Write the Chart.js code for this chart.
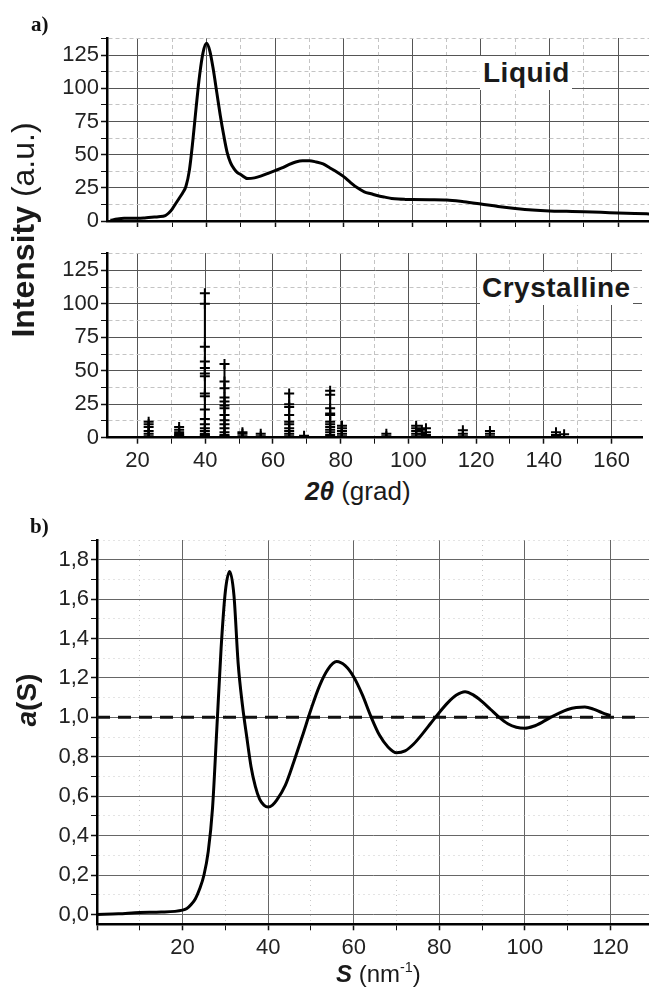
<!DOCTYPE html>
<html><head><meta charset="utf-8">
<script src="https://cdn.jsdelivr.net/npm/chart.js@4.4.1/dist/chart.umd.min.js"></script>
<style>
 html,body{margin:0;padding:0;background:#fff;}
 body{width:649px;height:989px;position:relative;overflow:hidden;font-family:"Liberation Sans",Arial,sans-serif;color:#111;}
 canvas{position:absolute;left:0;}
 .t{position:absolute;white-space:nowrap;line-height:1;}
 .lbl{position:absolute;background:#fff;font-weight:bold;font-size:28px;line-height:1;box-sizing:border-box;color:#1a1a1a;letter-spacing:0.5px;}
 sup{font-size:60%;vertical-align:0.7em;line-height:0;}
</style></head>
<body>
<canvas id="c1" width="649" height="200" style="top:30px"></canvas>
<canvas id="c2" width="649" height="230" style="top:245px"></canvas>
<canvas id="c3" width="649" height="459" style="top:530px"></canvas>

<div class="t" style="left:31px;top:12px;font:bold 21px 'Liberation Serif',serif;">a)</div>
<div class="t" style="left:30px;top:514px;font:bold 21px 'Liberation Serif',serif;">b)</div>
<div class="lbl" style="left:480px;top:56px;width:92px;height:34px;padding:3px 0 0 3px;">Liquid</div>
<div class="lbl" style="left:480px;top:272px;width:153px;height:33px;padding:2px 0 0 2px;">Crystalline</div>
<div class="t" style="left:23px;top:230px;transform:translate(-50%,-50%) rotate(-90deg);font-size:32px;color:#1a1a1a;"><b>Intensity</b> (a.u.)</div>
<div class="t" style="left:305px;top:478px;font-size:26px;color:#1a1a1a;"><b><i>2θ</i></b> (grad)</div>
<div class="t" style="left:27px;top:700px;transform:translate(-50%,-50%) rotate(-90deg);font-size:28px;color:#1a1a1a;"><b><i>a</i>(S)</b></div>
<div class="t" style="left:336px;top:962px;font-size:24px;color:#1a1a1a;"><b><i>S</i></b> (nm<sup>-1</sup>)</div>

<script>
// ---------- DATA ----------
// a) Liquid diffraction pattern: 2theta (grad) vs intensity (a.u.)
const liquidTheta = [12,14,16,18,20,22,24,26,28,29,30,31,32,33,34,35,36,37,38,39,40,41,42,43,44,45,46,47,48,49,50,52,54,56,58,60,62,64,66,68,70,72,74,76,78,80,82,84,86,88,90,92,94,96,98,100,105,110,115,120,125,130,135,140,145,150,155,160,165,170];
const liquidIntensity = [0.5,1.5,2,2,2,2.3,2.8,3.2,4,6,9,13,17,21,26,38,60,86,110,127,134,128,114,97,80,65,52,44,39.5,36.5,35,32,32.5,34,36,38,40,42.5,44.5,45.5,45.5,44.5,43,40,37,33.5,29,25,22,20.5,19,18,17,16.5,16.3,16.2,16,15.8,14.5,12.8,11,9.5,8.3,7.6,7.3,7,6.6,6,5.6,5.3];

// a) Crystalline reflections: stick positions and heights
const crystPeakTheta = [23.3,32.3,39.9,45.7,51.0,56.4,64.8,69.2,76.9,80.4,86.5,93.5,98,102.3,104,105.2,110,116.1,124.1,130,134,138,143.6,146,152,157,163,168];
const crystPeakHeight = [12,8,108,55,4,3,33,1.5,35,9,1,3,0.8,9,6,7,0.8,5.5,5,1,1,0.8,4,2.5,1,1,1,1];
// crystalline individual reflection markers (+)
const crystMarkTheta = [
 23.3,23.3,23.3,23.3,23.3,23.3,
 32.3,32.3,32.3,32.3,32.3,32.3,
 39.9,39.9,39.9,39.9,39.9,39.9,39.9,39.9,39.9,39.9,39.9,39.9,39.9,39.9,39.9,39.9,39.9,
 45.7,45.7,45.7,45.7,45.7,45.7,45.7,45.7,45.7,45.7,45.7,45.7,45.7,45.7,
 51.0,51.0,51.0, 56.4,56.4,
 64.8,64.8,64.8,64.8,64.8,64.8,64.8,64.8,64.8,64.8,
 69.2,
 76.9,76.9,76.9,76.9,76.9,76.9,76.9,76.9,76.9,76.9,76.9,
 80.4,80.4,80.4,80.4,80.4,
 93.5,93.5,
 102.3,102.3,102.3,102.3,102.3, 104,104, 105.2,105.2,105.2,
 116.1,116.1,116.1, 124.1,124.1,124.1,
 143.6,143.6,143.6, 146
];
const crystMarkIntensity = [
 12,10,8,5,3,1,
 8,6,4,3,2,1,
 108,100,68,57,52,48,46,33,31,21,14,10,7,5,3,2,1,
 55,42,37,30,27,24,22,17,13,10,7,4,2,1,
 4,3,1, 3,1,
 33,25,23,17,12,10,7,5,3,1,
 1.5,
 35,32,22,18,17,12,10,8,6,4,2,
 9,7,5,3,1,
 3,1,
 9,7,5,3,1, 6,3, 7,4,2,
 5.5,3,1, 5,3,1,
 4,2,1, 2.5
];

// b) Structure factor a(S)
const sValues = [0,5,10,15,20,21,22,23,24,25,26,27,28,29,30,31,32,33,34,35,36,37,38,39,40,41,42,44,46,48,50,52,54,56,58,60,62,64,66,68,70,72,74,76,78,80,82,84,86,88,90,92,94,96,98,100,102,104,106,108,110,112,114,116,118,120];
const aValues = [0,0.003,0.01,0.012,0.022,0.03,0.05,0.08,0.13,0.2,0.32,0.54,0.94,1.35,1.64,1.74,1.62,1.27,1.06,0.9,0.75,0.65,0.585,0.555,0.545,0.555,0.58,0.655,0.775,0.905,1.04,1.16,1.245,1.283,1.262,1.205,1.115,1.005,0.91,0.85,0.82,0.83,0.865,0.915,0.97,1.025,1.075,1.113,1.13,1.113,1.08,1.04,1.0,0.968,0.95,0.945,0.955,0.975,1.0,1.022,1.04,1.05,1.052,1.042,1.024,1.008];
const refLineS = [0,126.5];
const refLineA = [1.0,1.0];

// tick labels
const intensityTicks = [0,25,50,75,100,125];
const thetaTicks = [20,40,60,80,100,120,140,160];
const aTicks = [0,0.2,0.4,0.6,0.8,1.0,1.2,1.4,1.6,1.8];
const sTicks = [20,40,60,80,100,120];

// ---------- HELPERS ----------
const TICKFONT = {family:"'Liberation Sans', Arial, sans-serif", size:22};
const near = (v, arr) => arr.some(a => Math.abs(a - v) < 1e-6);
function gridOpts(majorFn, minorDash, majorColor, minorColor){
  return {
    grid:{
      drawOnChartArea:true, drawTicks:true, tickLength:6,
      color: c => (c.tick && majorFn(c.tick.value)) ? majorColor : minorColor,
      lineWidth: 1,
      tickColor:'#111', tickWidth: c => (c.tick && majorFn(c.tick.value)) ? 1.5 : 1
    },
    border:{ display:true, color:'#000', width:2.5,
      dash: c => (c.tick && !majorFn(c.tick.value)) ? minorDash : [] }
  };
}
function fix(size, horizontal){
  return function(scale){
    if (horizontal) scale.height = size; else scale.width = size;
    scale.paddingTop = 0; scale.paddingBottom = 0; scale.paddingLeft = 0; scale.paddingRight = 0;
  };
}
const base = {
  responsive:false, animation:false, events:[],
  plugins:{legend:{display:false}, tooltip:{enabled:false}, title:{display:false}}
};

// ---------- PANEL a) Liquid ----------
const majT = v => Math.abs(v % 20) < 1e-6;
const majI = v => Math.abs(v % 25) < 1e-6;
new Chart(document.getElementById('c1'), {
  type:'line',
  data:{ datasets:[{
    data: liquidTheta.map((x,i)=>({x, y: liquidIntensity[i]})),
    borderColor:'#000', borderWidth:3, pointRadius:0, cubicInterpolationMode:'monotone', fill:false
  }]},
  options:Object.assign({}, base, {
    layout:{padding:{top:8, right:0, left:0, bottom:0}},
    scales:{
      x: Object.assign({type:'linear', min:11, max:169, afterFit:fix(9,true),
        ticks:{display:false, stepSize:10, autoSkip:false, includeBounds:false}},
        gridOpts(majT,[4,3],'#555','#c4c4c4')),
      y: Object.assign({type:'linear', min:0, max:138, afterFit:fix(107,false),
        ticks:{stepSize:12.5, autoSkip:false, includeBounds:false, padding:2, color:'#222', font:TICKFONT,
          callback: v => near(v,intensityTicks) ? String(v) : ''}},
        gridOpts(majI,[4,3],'#555','#c4c4c4'))
    }
  })
});

// ---------- PANEL a) Crystalline ----------
const stickPts = [];
crystPeakTheta.forEach((x,i)=>{ stickPts.push({x, y:0}, {x, y:crystPeakHeight[i]}, {x, y:null}); });
new Chart(document.getElementById('c2'), {
  type:'line',
  data:{ datasets:[
    { data: stickPts, borderColor:'#000', borderWidth:2, pointRadius:0, spanGaps:false, tension:0 },
    { data: crystMarkTheta.map((x,i)=>({x, y: crystMarkIntensity[i]})), showLine:false,
      pointStyle:'cross', pointRadius:5, borderColor:'#000', borderWidth:2, backgroundColor:'#000' }
  ]},
  options:Object.assign({}, base, {
    layout:{padding:{top:8, right:0, left:0, bottom:0}},
    scales:{
      x: Object.assign({type:'linear', min:11, max:169, afterFit:fix(37.3,true),
        ticks:{stepSize:10, autoSkip:false, includeBounds:false, maxRotation:0, padding:4, color:'#222', font:TICKFONT,
          callback: v => near(v,thetaTicks) ? String(v) : ''}},
        gridOpts(majT,[4,3],'#555','#c4c4c4')),
      y: Object.assign({type:'linear', min:0, max:138, afterFit:fix(107,false),
        ticks:{stepSize:12.5, autoSkip:false, includeBounds:false, padding:2, color:'#222', font:TICKFONT,
          callback: v => near(v,intensityTicks) ? String(v) : ''}},
        gridOpts(majI,[4,3],'#555','#c4c4c4'))
    }
  })
});

// ---------- PANEL b) a(S) ----------
const majS = v => Math.abs(v % 20) < 1e-6;
const majA = v => Math.abs(Math.round(v*10) % 2) === 0;
new Chart(document.getElementById('c3'), {
  type:'line',
  data:{ datasets:[
    { data: sValues.map((x,i)=>({x, y:aValues[i]})), borderColor:'#000', borderWidth:3, pointRadius:0,
      cubicInterpolationMode:'monotone', fill:false },
    { data: refLineS.map((x,i)=>({x, y:refLineA[i]})), borderColor:'#111', borderWidth:3, pointRadius:0,
      borderDash:[13,8], fill:false }
  ]},
  options:Object.assign({}, base, {
    layout:{padding:{top:10, right:0, left:0, bottom:0}},
    scales:{
      x: Object.assign({type:'linear', min:0, max:129, afterFit:fix(64.7,true),
        ticks:{stepSize:10, autoSkip:false, includeBounds:false, maxRotation:0, padding:4, color:'#222', font:TICKFONT,
          callback: v => near(v,sTicks) ? String(v) : ''}},
        gridOpts(majS,[1,4],'#666','#c8c8c8')),
      y: Object.assign({type:'linear', min:-0.05, max:1.9, afterFit:fix(97,false),
        ticks:{stepSize:0.1, autoSkip:false, includeBounds:false, padding:2, color:'#222', font:TICKFONT,
          callback: v => near(v,aTicks) ? v.toFixed(1).replace('.',',') : ''}},
        gridOpts(majA,[1,4],'#666','#c8c8c8'))
    }
  })
});
</script>
</body></html>
